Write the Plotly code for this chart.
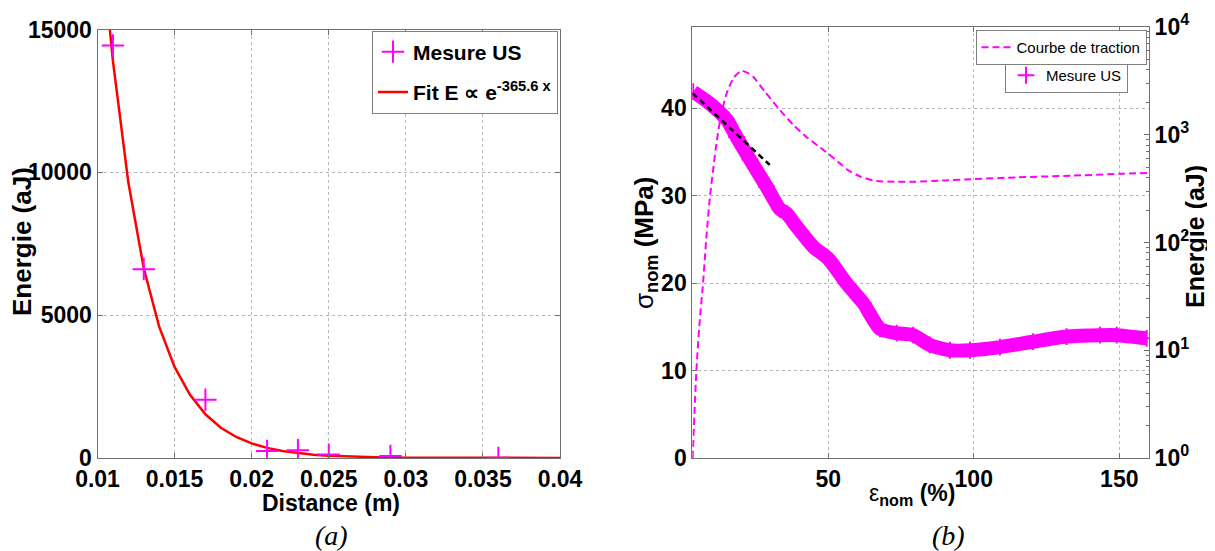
import plotly.graph_objects as go

# ---------------- Data: panel (a) ----------------
dist_meas = [0.011, 0.013, 0.017, 0.021, 0.023, 0.025, 0.029, 0.036]
energy_meas = [14440, 6610, 2040, 245, 270, 119, 70, 5]

dist_fit = [0.0108, 0.011, 0.012, 0.013, 0.014, 0.015, 0.016, 0.017, 0.018, 0.019,
            0.020, 0.021, 0.022, 0.023, 0.024, 0.025, 0.026, 0.028, 0.030, 0.035, 0.040]
energy_fit = [15000, 13900, 9650, 6640, 4600, 3190, 2210, 1530, 1060, 735,
              510, 355, 245, 170, 118, 82, 57, 27, 13, 2, 0.3]

# ---------------- Data: panel (b) ----------------
strain_trac = [3.4, 4.7, 5.8, 7.0, 8.2, 9.4, 11.6, 13.2, 15.1, 17.5, 20.2, 22.0, 24.2,
               28.5, 33.4, 38.0, 42.6, 46.5, 50.0, 54.0, 56.9, 61.0, 66.0, 72.9, 80.0,
               90.0, 100.0, 115.0, 134.0, 150.0, 160.0]
stress_trac = [0, 10, 15.5, 20, 25.5, 30, 36, 39.3, 41.7, 43.5, 44.3, 44.1, 43.6,
               41.8, 39.8, 38.1, 36.7, 35.7, 34.8, 33.7, 32.9, 32.2, 31.7, 31.6, 31.6,
               31.75, 31.9, 32.1, 32.3, 32.5, 32.6]

strain_us = [3.6, 9.3, 15.1, 18.5, 23.1, 28.8, 33.4, 35.7, 39.1, 44.9, 50.0, 56.3, 62.0,
             67.8, 73.5, 79.2, 84.9, 91.8, 98.7, 109.0, 120.4, 131.9, 143.4, 149.1, 159.4]
energy_us = [2512, 1950, 1380, 955, 589, 331, 204, 186, 141, 91, 71, 41.7, 27.5,
             15.8, 14.4, 13.8, 11.2, 10.0, 10.0, 10.7, 12.0, 13.4, 13.8, 13.8, 12.9]

strain_slope = [3.4, 29.9]
energy_slope = [2430, 525]

xticks_a = [0.01, 0.015, 0.02, 0.025, 0.03, 0.035, 0.04]
xticklabels_a = ["0.01", "0.015", "0.02", "0.025", "0.03", "0.035", "0.04"]
yticks_a = [0, 5000, 10000, 15000]
yticklabels_a = ["0", "5000", "10000", "15000"]
xticks_b = [50, 100, 150]
yticks_b = [0, 10, 20, 30, 40]
yticks_e = [1, 10, 100, 1000, 10000]
yticklabels_e = ["10<sup>0</sup>", "10<sup>1</sup>", "10<sup>2</sup>", "10<sup>3</sup>", "10<sup>4</sup>"]
minor_e = [m * 10 ** k for k in range(4) for m in range(2, 10)]

MAG = "#FF00FF"
FONT = "Liberation Sans, Arial"
SERIF = "Liberation Serif, Times New Roman"

# the page body has an 8px margin: the figure starts at (8, 8) in the window
OFF = 8
W, H = 1215 - OFF, 551 - OFF


def px(x):
    return (x - OFF) / W


def py(y):
    return 1 - (y - OFF) / H


fig = go.Figure()

# Panel (a)
fig.add_trace(go.Scatter(x=dist_fit, y=energy_fit, mode="lines", xaxis="x", yaxis="y",
                         line=dict(color="red", width=2.5), legendgroup="fit",
                         name="Fit E \u221d e<sup>-365.6 x</sup>", legend="legend", legendrank=2))
fig.add_trace(go.Scatter(x=dist_meas, y=energy_meas, mode="markers", xaxis="x", yaxis="y",
                         marker=dict(symbol="cross-thin", size=16, line=dict(color=MAG, width=2)),
                         legendgroup="meas", name="Mesure US", legend="legend", legendrank=1))

# Panel (b)
fig.add_trace(go.Scatter(x=strain_us, y=energy_us, mode="lines", xaxis="x2", yaxis="y3",
                         line=dict(color=MAG, width=14, shape="spline", smoothing=0.6),
                         showlegend=False, hoverinfo="skip"))
fig.add_trace(go.Scatter(x=strain_us, y=energy_us, mode="markers", xaxis="x2", yaxis="y3",
                         marker=dict(symbol="cross-thin", size=12, line=dict(color=MAG, width=2)),
                         name="Mesure US", legend="legend3"))
fig.add_trace(go.Scatter(x=strain_slope, y=energy_slope, mode="lines", xaxis="x2", yaxis="y3",
                         line=dict(color="black", width=2.5, dash="6px,4px"), showlegend=False))
fig.add_trace(go.Scatter(x=strain_trac, y=stress_trac, mode="lines", xaxis="x2", yaxis="y2",
                         line=dict(color=MAG, width=2, dash="7px,4px", shape="spline", smoothing=0.5),
                         name="Courbe de traction", legend="legend2"))

tickfont = dict(family=FONT, size=23, color="black", weight="bold")
axis_common = dict(showline=True, linecolor="#707070", linewidth=1, ticks="inside",
                   tickcolor="#707070", ticklen=5, zeroline=False, automargin=False,
                   gridcolor="#b8b8b8", griddash="dot", gridwidth=1, tickfont=tickfont)

fig.update_layout(
    width=W, height=H, margin=dict(l=0, r=0, t=0, b=0, autoexpand=False),
    paper_bgcolor="white", plot_bgcolor="white",
    font=dict(family=FONT, color="black"),
    xaxis=dict(domain=[px(97.5), px(560)], range=[0.01, 0.04], tickvals=xticks_a,
               ticktext=xticklabels_a, mirror="ticks", showgrid=True, anchor="y", **axis_common),
    yaxis=dict(domain=[py(458), py(29.5)], range=[0, 15000], tickvals=yticks_a,
               ticktext=yticklabels_a, mirror="ticks", showgrid=True, anchor="x", **axis_common),
    xaxis2=dict(domain=[px(692.3), px(1149)], range=[3.3, 160.2], tickvals=xticks_b,
                mirror="ticks", showgrid=True, anchor="y2", **axis_common),
    yaxis2=dict(domain=[py(458), py(27)], range=[0, 49.3], tickvals=yticks_b,
                showgrid=True, anchor="x2", **axis_common),
    yaxis3=dict(overlaying="y2", side="right", type="log", range=[0, 4], anchor="x2",
                tickvals=yticks_e, ticktext=yticklabels_e, showgrid=False, automargin=False,
                minor=dict(tickmode="array", tickvals=minor_e, ticks="inside", ticklen=3,
                           tickcolor="#707070", showgrid=False),
                showline=True, linecolor="#707070", linewidth=1, ticks="inside",
                tickcolor="#707070", ticklen=5, zeroline=False, tickfont=tickfont),
    legend=dict(x=px(558), y=py(30.5), xanchor="right", yanchor="top",
                bgcolor="white", bordercolor="#808080", borderwidth=1,
                font=dict(family=FONT, size=21, color="black", weight="bold"),
                traceorder="grouped", itemwidth=30, tracegroupgap=10),
    legend2=dict(x=px(1146.5), y=py(30), xanchor="right", yanchor="top",
                 bgcolor="white", bordercolor="#808080", borderwidth=1,
                 font=dict(family=FONT, size=15, color="black"), itemwidth=30),
    legend3=dict(x=px(1128), y=py(58), xanchor="right", yanchor="top",
                 bgcolor="white", bordercolor="#808080", borderwidth=1,
                 font=dict(family=FONT, size=15, color="black"), itemwidth=30),
)

ann = [
    dict(text="<b>Energie (aJ)</b>", x=px(22), y=py(242), textangle=-90, size=26),
    dict(text="<b>Distance (m)</b>", x=px(331), y=py(503), size=23),
    dict(text="<i>(a)</i>", x=px(331), y=py(535), size=28, serif=True),
    dict(text="\u03c3<b><sub>nom</sub> (MPa)</b>", x=px(645), y=py(243), textangle=-90, size=26),
    dict(text="\u03b5<b><sub>nom</sub> (%)</b>", x=px(912), y=py(494), size=23),
    dict(text="<b>Energie (aJ)</b>", x=px(1195), y=py(237), textangle=-90, size=25),
    dict(text="<i>(b)</i>", x=px(948), y=py(535), size=28, serif=True),
]
out = []
for a in ann:
    size = a.pop("size")
    serif = a.pop("serif", False)
    a.update(xref="paper", yref="paper", showarrow=False, xanchor="center", yanchor="middle",
             font=dict(family=SERIF if serif else FONT, size=size, color="black"))
    out.append(a)
fig.update_layout(annotations=out)

fig.write_html("out.html")
